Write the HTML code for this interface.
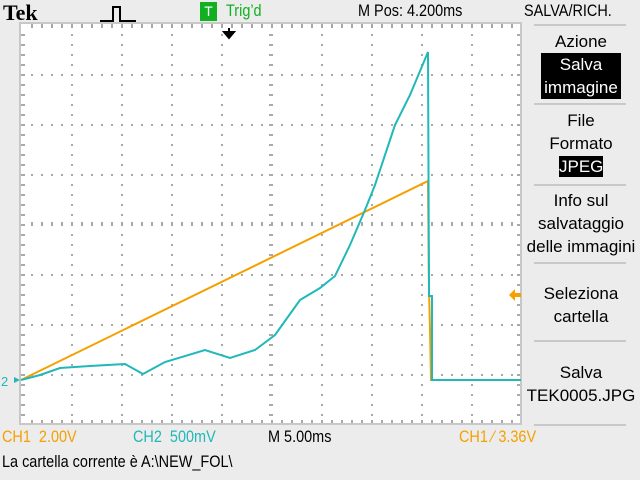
<!DOCTYPE html>
<html><head><meta charset="utf-8"><style>
body{margin:0;width:640px;height:480px;background:#ececec;overflow:hidden;position:relative;font-family:"Liberation Sans",sans-serif;}
.t{position:absolute;white-space:nowrap;font-size:17px;line-height:18px;transform-origin:0 0;transform:scaleX(0.85);}
.m{position:absolute;left:522px;width:118px;text-align:center;font-size:17px;line-height:23px;color:#000;}
.sep{position:absolute;left:534px;width:92px;height:2px;background:#c8c8c8;}
.inv{background:#000;color:#fff;display:inline-block;}
</style></head><body>
<div class="t" style="left:3px;top:2px;font-family:'Liberation Serif',serif;font-weight:bold;font-size:22px;line-height:22px;transform:none">Tek</div>
<svg style="position:absolute;left:98px;top:4px" width="40" height="20"><path d="M2 17 H15 V3 H22 V17 H38" fill="none" stroke="#000" stroke-width="2"/></svg>
<div style="position:absolute;left:200px;top:2px;width:17px;height:19px;background:#10b020;color:#fff;font-size:14px;text-align:center;line-height:19px">T</div>
<div class="t" style="left:226px;top:2px;color:#10b020">Trig’d</div>
<div class="t" style="left:358px;top:2px">M Pos: 4.200ms</div>
<div class="t" style="left:524px;top:2px">SALVA/RICH.</div>

<svg id="scope" style="position:absolute;left:0;top:0" width="640" height="480"></svg>

<div class="sep" style="top:24px"></div>
<div class="m" style="top:30px">Azione<br><span class="inv" style="width:80px;line-height:23px">Salva<br>immagine</span></div>
<div class="sep" style="top:103px"></div>
<div class="m" style="top:109px">File<br>Formato<br><span class="inv" style="width:44px;line-height:21px">JPEG</span></div>
<div class="sep" style="top:184px"></div>
<div class="m" style="top:189px">Info sul<br>salvataggio<br>delle immagini</div>
<div class="sep" style="top:262px"></div>
<div class="m" style="top:282px">Seleziona<br>cartella</div>
<div class="sep" style="top:340px"></div>
<div class="m" style="top:361px">Salva<br>TEK0005.JPG</div>
<div class="sep" style="top:424px"></div>

<div class="t" style="left:2px;top:428px;color:#f5a000">CH1&nbsp;&nbsp;2.00V</div>
<div class="t" style="left:133px;top:428px;color:#20b8b8">CH2&nbsp;&nbsp;500mV</div>
<div class="t" style="left:268px;top:428px">M 5.00ms</div>
<div class="t" style="left:459px;top:428px;color:#f5a000">CH1 ⁄ 3.36V</div>
<div class="t" style="left:2px;top:453px">La cartella corrente è A:\NEW_FOL\</div>

<script>
const ch1Time=[0,40.7,40.8,40.9,41.0,50];
const ch1Volts=[0,7.96,3.6,2.0,0,0];
const ch2Time=[0,1.9,3.9,6.9,10.4,12.2,14.4,18.4,20.9,23.4,25.4,27.9,29.9,31.4,32.9,34.4,35.4,36.4,37.4,38.9,40.7,40.8,41.1,41.1,50];
const ch2Volts=[0,0.05,0.12,0.14,0.16,0.06,0.18,0.30,0.22,0.30,0.45,0.80,0.92,1.04,1.35,1.70,1.95,2.25,2.55,2.85,3.28,0.84,0.84,0,0];
const L=21,T=24,W=500,H=400,GND=380;
const xs=t=>L+t/5*50;
const y1=v=>GND-v/2*50;
const y2=v=>GND-v/0.5*50;
const NS='http://www.w3.org/2000/svg';
const svg=document.getElementById('scope');
function mk(tag,a){const e=document.createElementNS(NS,tag);for(const k in a)e.setAttribute(k,a[k]);svg.appendChild(e);return e;}
const bg=mk('rect',{x:L,y:T,width:W,height:H,fill:'#fff'});


let d='';
for(let i=1;i<10;i++){const x=L+i*50;for(let y=T+10;y<T+H;y+=10)d+=`M${x} ${y}h2v2h-2z`;}
for(let j=1;j<8;j++){const y=T+j*50;for(let x=L+10;x<L+W;x+=10)d+=`M${x} ${y}h2v2h-2z`;}
for(let x=L+10;x<L+W;x+=10){d+=`M${x} ${T}h2v4h-2zM${x} ${T+H-4}h2v4h-2zM${x} ${T+H/2-2}h2v4h-2z`;}
for(let y=T+10;y<T+H;y+=10){d+=`M${L} ${y}h4v2h-4zM${L+W-4} ${y}h4v2h-4zM${L+W/2-2} ${y}h4v2h-4z`;}
const g=mk('path',{d:d,fill:'#a8a8a8'});


const bd=mk('rect',{x:L-1,y:T-1,width:W+1,height:H+1,fill:'none',stroke:'#c8c8c8','stroke-width':2});


const p1=mk('polyline',{points:ch1Time.map((t,i)=>xs(t)+','+y1(ch1Volts[i])).join(' '),fill:'none',stroke:'#f5a000','stroke-width':2});


const p2=mk('polyline',{points:ch2Time.map((t,i)=>xs(t)+','+y2(ch2Volts[i])).join(' '),fill:'none',stroke:'#20b8b8','stroke-width':2});


const ta=mk('path',{d:'M229 28v7M224 32h10l-5 6z',stroke:'#000','stroke-width':2,fill:'#000'});


const lv=mk('path',{d:'M509 295l6-6v4h6v4h-6v4z',fill:'#f5a000'});


const gm=mk('path',{d:'M14 377l6 3-6 3z',fill:'#20b8b8'});


const gt=mk('text',{x:1,y:386,fill:'#20b8b8','font-size':13,'font-family':'Liberation Sans'});
gt.textContent='2';


</script>
</body></html>
